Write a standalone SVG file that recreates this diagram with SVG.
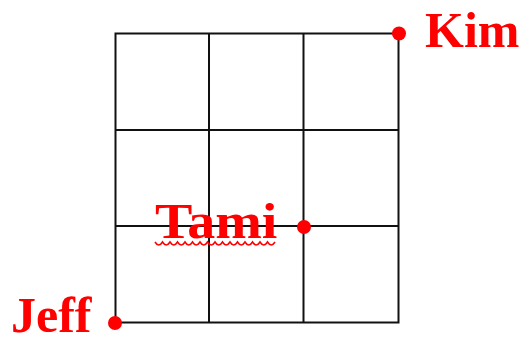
<svg xmlns="http://www.w3.org/2000/svg" width="525" height="343" viewBox="0 0 525 343">
<style>
.grid line, .grid rect { stroke: #111; stroke-width: 2; fill: none; }
.dot { fill: #ff0000; }
.lbl { font-family: "Liberation Serif", "Times New Roman", serif; font-weight: bold; font-size: 50px; fill: #ff0000; }
.squiggle { stroke: #ff0000; stroke-width: 1.6; fill: none; }
</style>
<rect width="525" height="343" fill="#ffffff"/>
<g id="grid" class="grid">
  <rect x="115.5" y="33.5" width="283" height="289"/>
  <line x1="209" y1="33.5" x2="209" y2="322.5"/>
  <line x1="303.5" y1="33.5" x2="303.5" y2="322.5"/>
  <line x1="115.5" y1="130" x2="398.5" y2="130"/>
  <line x1="115.5" y1="226" x2="398.5" y2="226"/>
</g>
<g id="connectors"></g>
<g id="node-kim">
  <circle class="dot" cx="399" cy="33.5" r="7"/>
  <text class="lbl" x="425" y="47">Kim</text>
</g>
<g id="node-tami">
  <circle class="dot" cx="304" cy="227" r="7"/>
  <text class="lbl" transform="translate(155 238) scale(1.12 1)" x="0" y="0">Tami</text>
  <path class="squiggle" d="M155 242 q3.75 6 7.5 0 q3.75 6 7.5 0 q3.75 6 7.5 0 q3.75 6 7.5 0 q3.75 6 7.5 0 q3.75 6 7.5 0 q3.75 6 7.5 0 q3.75 6 7.5 0 q3.75 6 7.5 0 q3.75 6 7.5 0 q3.75 6 7.5 0 q3.75 6 7.5 0 q3.75 6 7.5 0 q3.75 6 7.5 0 q3.75 6 7.5 0 q3.75 6 7.5 0"/>
</g>
<g id="node-jeff">
  <circle class="dot" cx="115" cy="323" r="7"/>
  <text class="lbl" x="11" y="332">Jeff</text>
</g>
</svg>
